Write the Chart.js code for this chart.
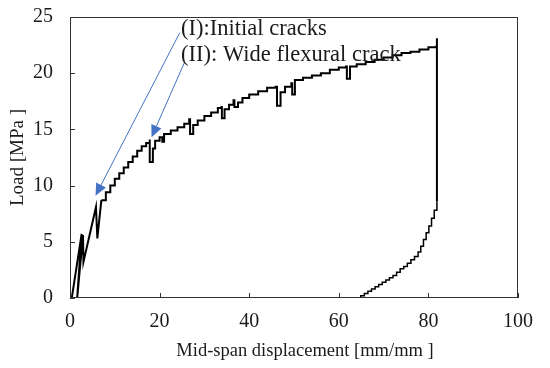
<!DOCTYPE html>
<html>
<head>
<meta charset="utf-8">
<script src="https://cdn.jsdelivr.net/npm/chart.js@4.4.1/dist/chart.umd.min.js"></script>
<style>
html, body { margin: 0; padding: 0; background: #fff; }
</style>
</head>
<body>
<canvas id="myChart" width="550" height="368"></canvas>
<script>
// first cycles near the origin (drawn as straight segments)
const startX = [0.4, 2.6, 1.6, 2.9, 3.0, 5.8, 6.1, 7.0];
const startY = [0.0, 5.7, 0.0, 5.6, 3.2, 8.1, 5.3, 8.7];

// main loading branch (staircase)
const loadX = [7.0, 8, 9, 10, 11, 12, 13, 14, 15, 16, 17, 17.8, 17.8, 18.5, 19, 20, 20.6, 21, 22.5, 24, 25.5,
  26.6, 26.8, 27.5, 28.5, 30, 31.5, 33, 33.8, 33.9, 34.5, 35.5, 36.5, 36.7, 37.5, 38.5, 40, 42, 44, 45.9,
  46.2, 47, 48, 49.4, 49.6, 50.2, 52, 54, 56, 58, 60, 61.6, 61.8, 62.5, 64, 66, 68, 70, 72, 74, 76, 78, 80, 81.8, 81.9, 81.9];
const loadY = [8.7, 9.4, 10.0, 10.6, 11.1, 11.6, 12.1, 12.6, 13.1, 13.5, 13.8, 14.1, 12.1, 13.3, 14.0, 14.3, 13.9, 14.6, 14.9, 15.2, 15.5,
  15.9, 14.6, 15.4, 15.8, 16.2, 16.5, 16.9, 17.0, 16.0, 16.8, 17.2, 17.6, 17.0, 17.4, 17.8, 18.1, 18.4, 18.7, 18.8,
  17.1, 18.3, 18.8, 19.1, 18.1, 19.4, 19.6, 19.8, 20.0, 20.3, 20.5, 20.6, 19.5, 20.6, 20.8, 21.0, 21.2, 21.4, 21.6, 21.8, 21.9, 22.1, 22.3, 22.4, 23.1, 8.6];

// unloading branch
const unloadX = [81.9, 81.3, 80.7, 80.1, 79.5, 78.9, 78.3, 77.7, 76.9, 76.1, 75.3, 74.5, 73.7, 72.9, 72.1, 71.3,
  70.5, 69.7, 68.9, 68.1, 67.3, 66.5, 65.7, 64.9, 64.5, 62.5];
const unloadY = [8.6, 7.8, 7.1, 6.4, 5.8, 5.2, 4.6, 4.1, 3.7, 3.4, 3.1, 2.8, 2.6, 2.3, 2.0, 1.8,
  1.6, 1.4, 1.2, 1.0, 0.8, 0.6, 0.4, 0.2, 0.0, 0.0];

const xTicks = [0, 20, 40, 60, 80, 100];
const yTicks = [0, 5, 10, 15, 20, 25];

// annotation texts and arrows (data coordinates)
const notes = [
  { text: '(I):Initial cracks', x: 24.8, y: 23.9 },
  { text: '(II): Wide flexural crack', x: 24.8, y: 21.6 }
];
const arrows = [
  { from: [24.5, 23.6], to: [5.7, 9.1] },
  { from: [25.6, 21.0], to: [18.2, 14.3] }
];

const toPts = (xs, ys) => xs.map((x, i) => ({ x: x, y: ys[i] }));
const serif = '"Liberation Serif", "Times New Roman", serif';
const ink = '#1a1a1a';

const framePlugin = {
  id: 'frame',
  afterDatasetsDraw(chart) {
    const { ctx, chartArea: a, scales } = chart;
    ctx.save();
    // box round the plot
    ctx.strokeStyle = '#333';
    ctx.lineWidth = 1;
    ctx.strokeRect(a.left + 0.5, a.top + 0.5, a.right - a.left - 1, a.bottom - a.top - 1);
    // inward ticks
    ctx.beginPath();
    xTicks.forEach(v => {
      const px = Math.round(scales.x.getPixelForValue(v)) + 0.5;
      ctx.moveTo(px, a.bottom);
      ctx.lineTo(px, a.bottom - 5);
    });
    yTicks.forEach(v => {
      const py = Math.round(scales.y.getPixelForValue(v)) + 0.5;
      ctx.moveTo(a.left, py);
      ctx.lineTo(a.left + 5, py);
    });
    ctx.stroke();

    // arrows
    ctx.strokeStyle = '#4472C4';
    ctx.fillStyle = '#4472C4';
    arrows.forEach(ar => {
      const x1 = scales.x.getPixelForValue(ar.from[0]), y1 = scales.y.getPixelForValue(ar.from[1]);
      const x2 = scales.x.getPixelForValue(ar.to[0]), y2 = scales.y.getPixelForValue(ar.to[1]);
      const ang = Math.atan2(y2 - y1, x2 - x1);
      const len = 12, half = 5.5;
      const bx = x2 - len * Math.cos(ang), by = y2 - len * Math.sin(ang);
      ctx.beginPath();
      ctx.moveTo(x1, y1);
      ctx.lineTo(bx, by);
      ctx.stroke();
      ctx.beginPath();
      ctx.moveTo(x2, y2);
      ctx.lineTo(bx + half * Math.sin(ang), by - half * Math.cos(ang));
      ctx.lineTo(bx - half * Math.sin(ang), by + half * Math.cos(ang));
      ctx.closePath();
      ctx.fill();
    });

    // texts
    ctx.fillStyle = ink;
    ctx.font = '22.5px ' + serif;
    ctx.textAlign = 'left';
    ctx.textBaseline = 'middle';
    notes.forEach(n => {
      ctx.fillText(n.text, scales.x.getPixelForValue(n.x), scales.y.getPixelForValue(n.y));
    });

    // x axis title, set a little right of centre as in the original
    ctx.font = '18.5px ' + serif;
    ctx.textAlign = 'center';
    ctx.fillText('Mid-span displacement [mm/mm ]', (a.left + a.right) / 2 + 11, 351);
    ctx.restore();
  }
};

const ctx = document.getElementById('myChart').getContext('2d');
const myChart = new Chart(ctx, {
  type: 'scatter',
  data: {
    datasets: [{
      data: toPts(startX, startY),
      showLine: true,
      borderColor: '#000',
      borderWidth: 2,
      pointRadius: 0
    }, {
      data: toPts(loadX, loadY),
      showLine: true,
      stepped: 'before',
      borderColor: '#000',
      borderWidth: 2,
      pointRadius: 0
    }, {
      data: toPts(unloadX, unloadY),
      showLine: true,
      stepped: 'after',
      borderColor: '#000',
      borderWidth: 1.5,
      pointRadius: 0
    }]
  },
  options: {
    responsive: false,
    animation: false,
    layout: { padding: { left: 0, top: 17, right: 32, bottom: 0 } },
    plugins: {
      legend: { display: false },
      tooltip: { enabled: false }
    },
    scales: {
      x: {
        type: 'linear',
        min: 0,
        max: 100,
        afterBuildTicks: s => { s.ticks = xTicks.map(v => ({ value: v })); },
        afterFit: s => { s.height = 70; },
        grid: { display: false, drawTicks: false },
        border: { display: false },
        ticks: { padding: 12, color: ink, font: { family: serif, size: 20 } }
      },
      y: {
        type: 'linear',
        min: 0,
        max: 25,
        afterBuildTicks: s => { s.ticks = yTicks.map(v => ({ value: v })); },
        afterFit: s => { s.width = 70; s.paddingTop = 0; s.paddingBottom = 0; },
        grid: { display: false, drawTicks: false },
        border: { display: false },
        ticks: { padding: 17, color: ink, font: { family: serif, size: 20 } },
        title: {
          display: true,
          text: 'Load [MPa ]',
          color: ink,
          font: { family: serif, size: 19 },
          padding: { top: 7, bottom: 0 }
        }
      }
    }
  },
  plugins: [framePlugin]
});
</script>
</body>
</html>
